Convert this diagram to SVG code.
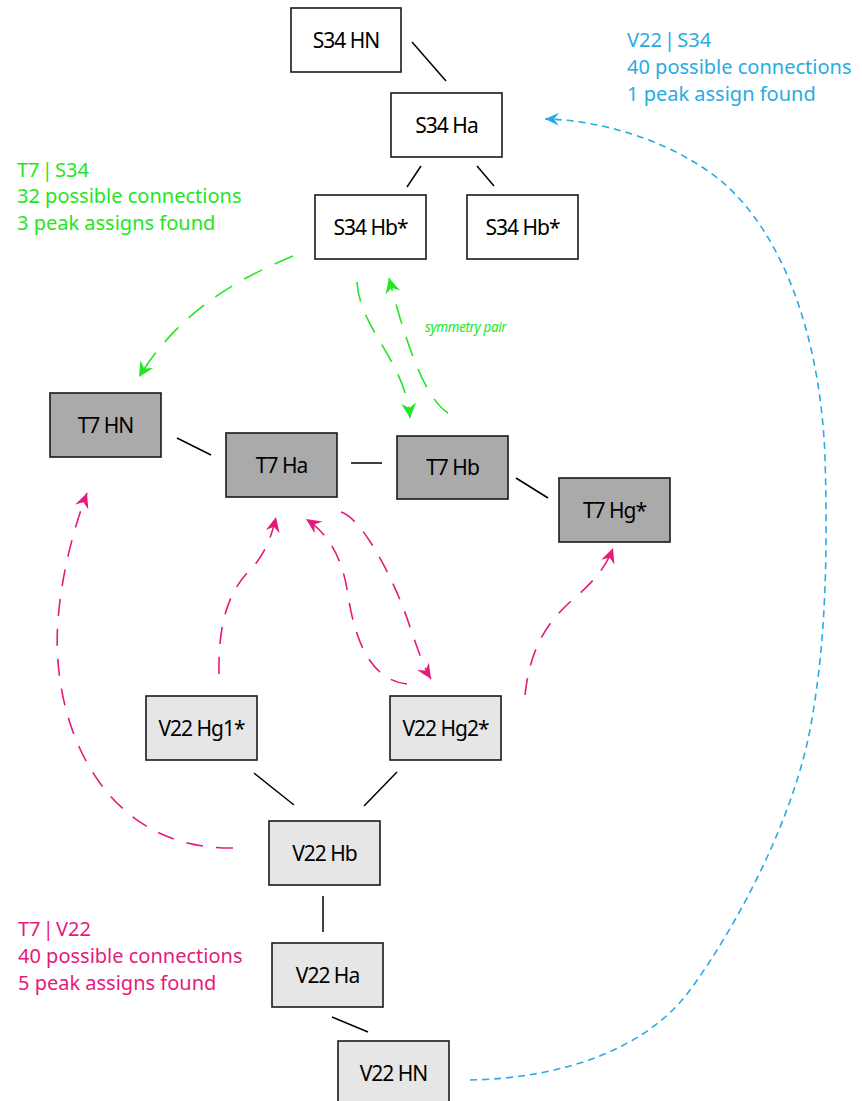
<svg xmlns="http://www.w3.org/2000/svg" width="862" height="1101" viewBox="0 0 862 1101">
<style>
.box{stroke:#1a1a1a;stroke-width:1.6}
.s34{fill:#ffffff}
.t7{fill:#aaaaaa}
.v22{fill:#e6e6e6}
.lbl{font-family:"Noto Sans","Open Sans",sans-serif;font-size:21px;fill:#000;text-anchor:middle;letter-spacing:-1px}
.ann{font-family:"Noto Sans","Open Sans",sans-serif;font-size:20px;letter-spacing:0px}
.hd{word-spacing:-3px}
.bond{stroke:#000;stroke-width:1.5;fill:none}
.g{stroke:#22e622;stroke-width:1.6;fill:none;stroke-dasharray:20 14}
.m{stroke:#e6197d;stroke-width:1.6;fill:none;stroke-dasharray:17 13}
.b{stroke:#29abe2;stroke-width:1.6;fill:none;stroke-dasharray:7 5}
</style>
<defs>
<marker id="ag" viewBox="-17 -9 18 18" refX="0" refY="0" markerWidth="18" markerHeight="18" orient="auto" markerUnits="userSpaceOnUse"><path d="M0,0 L-15,-7.5 L-10,0 L-15,7.5 Z" fill="#22e622"/></marker>
<marker id="am" viewBox="-17 -9 18 18" refX="0" refY="0" markerWidth="18" markerHeight="18" orient="auto" markerUnits="userSpaceOnUse"><path d="M0,0 L-15,-7 L-10,0 L-15,7 Z" fill="#e6197d"/></marker>
<marker id="ab" viewBox="-17 -9 18 18" refX="0" refY="0" markerWidth="18" markerHeight="18" orient="auto" markerUnits="userSpaceOnUse"><path d="M0,0 L-14,-6.5 L-9,0 L-14,6.5 Z" fill="#29abe2"/></marker>
</defs>

<g id="connectors">
<line class="bond" x1="412" y1="42" x2="446" y2="81"/>
<line class="bond" x1="421" y1="166" x2="407" y2="187"/>
<line class="bond" x1="477" y1="166" x2="494" y2="186"/>
<line class="bond" x1="177" y1="438" x2="211" y2="455"/>
<line class="bond" x1="351" y1="463" x2="382" y2="463"/>
<line class="bond" x1="516" y1="478" x2="548" y2="498"/>
<line class="bond" x1="254" y1="773" x2="294" y2="805"/>
<line class="bond" x1="397" y1="772" x2="364" y2="806"/>
<line class="bond" x1="323" y1="896" x2="323" y2="932"/>
<line class="bond" x1="332" y1="1017" x2="368" y2="1032"/>

<path class="g" d="M293,256 C240,278 180,310 139,377" marker-end="url(#ag)"/>
<path class="g" d="M357,282 C360,330 405,360 410,418" marker-end="url(#ag)"/>
<path class="g" d="M448,413 C420,395 400,320 389,278" marker-end="url(#ag)"/>

<path class="m" d="M233,848 C100,850 50,720 58,620 C62,570 75,525 87,493" marker-end="url(#am)"/>
<path class="m" d="M219,674 C218,620 230,590 250,570 C265,555 272,535 276,517" marker-end="url(#am)"/>
<path class="m" d="M341,512 C362,518 395,580 410,627 C418,650 424,668 431,679" marker-end="url(#am)"/>
<path class="m" d="M407,684 C370,680 355,640 348,595 C343,560 330,535 306,519" marker-end="url(#am)"/>
<path class="m" d="M525,695 C530,650 545,625 570,602 C590,585 605,570 613,548" marker-end="url(#am)"/>

<path class="b" d="M470,1080 C570,1078 650,1045 690,990 C720,950 795,830 813,713 C825,640 828,560 825,457 C820,330 780,230 720,180 C670,140 600,120 545,119" marker-end="url(#ab)"/>
</g>

<g id="s34-hn"><rect class="box s34" x="291" y="8" width="110" height="64"/><text class="lbl" x="346" y="47.5">S34 HN</text></g>
<g id="s34-ha"><rect class="box s34" x="391" y="93" width="111" height="64"/><text class="lbl" x="446.5" y="132.5">S34 Ha</text></g>
<g id="s34-hb1"><rect class="box s34" x="315" y="195" width="111" height="64"/><text class="lbl" x="370.5" y="234.5">S34 Hb*</text></g>
<g id="s34-hb2"><rect class="box s34" x="467" y="195" width="111" height="64"/><text class="lbl" x="522.5" y="234.5">S34 Hb*</text></g>

<g id="t7-hn"><rect class="box t7" x="50" y="393" width="111" height="64"/><text class="lbl" x="105.5" y="432.5">T7 HN</text></g>
<g id="t7-ha"><rect class="box t7" x="226" y="433" width="111" height="64"/><text class="lbl" x="281.5" y="472.5">T7 Ha</text></g>
<g id="t7-hb"><rect class="box t7" x="397" y="436" width="111" height="63"/><text class="lbl" x="452.5" y="475">T7 Hb</text></g>
<g id="t7-hg"><rect class="box t7" x="559" y="478" width="111" height="64"/><text class="lbl" x="614.5" y="517.5">T7 Hg*</text></g>

<g id="v22-hg1"><rect class="box v22" x="146" y="696" width="111" height="64"/><text class="lbl" x="201.5" y="735.5">V22 Hg1*</text></g>
<g id="v22-hg2"><rect class="box v22" x="390" y="696" width="111" height="64"/><text class="lbl" x="445.5" y="735.5">V22 Hg2*</text></g>
<g id="v22-hb"><rect class="box v22" x="269" y="821" width="111" height="64"/><text class="lbl" x="324.5" y="860.5">V22 Hb</text></g>
<g id="v22-ha"><rect class="box v22" x="272" y="943" width="111" height="64"/><text class="lbl" x="327.5" y="982.5">V22 Ha</text></g>
<g id="v22-hn"><rect class="box v22" x="338" y="1041" width="111" height="64"/><text class="lbl" x="393.5" y="1080.5">V22 HN</text></g>

<g id="ann-t7-s34" fill="#22e622" class="ann">
<text class="hd" x="17" y="177">T7 | S34</text>
<text x="17" y="203">32 possible connections</text>
<text x="17" y="230">3 peak assigns found</text>
</g>
<g id="ann-v22-s34" fill="#29abe2" class="ann">
<text class="hd" x="627" y="47">V22 | S34</text>
<text x="627" y="74">40 possible connections</text>
<text x="627" y="101">1 peak assign found</text>
</g>
<g id="ann-t7-v22" fill="#e6197d" class="ann">
<text class="hd" x="18" y="936">T7 | V22</text>
<text x="18" y="963">40 possible connections</text>
<text x="18" y="990">5 peak assigns found</text>
</g>
<text x="425" y="332" fill="#22e622" font-family="Noto Sans, Open Sans, sans-serif" font-size="13.5" font-style="italic" letter-spacing="-0.4">symmetry pair</text>
</svg>
